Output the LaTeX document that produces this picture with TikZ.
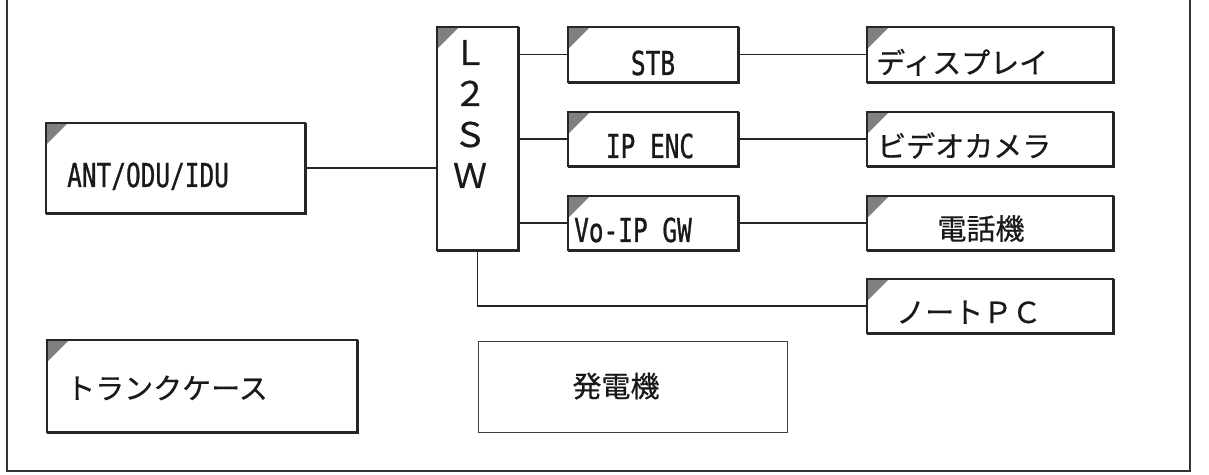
\documentclass[tikz,border=0pt]{standalone}
\usepackage{fontspec}
\newfontfamily\jp[FakeBold=0.6]{Noto Sans CJK JP}
\newfontfamily\lat[FakeStretch=0.74,FakeBold=0.8]{DejaVu Sans Mono}
\usetikzlibrary{calc}
\begin{document}
\begin{tikzpicture}[x=1pt,y=1pt,
  box/.style={draw=black!85, line width=1.8pt, inner sep=0pt, outer sep=0pt,
    path picture={\fill[black!50] (path picture bounding box.north west) -- ++(22,0) -- ++(-22,-22) -- cycle;}},
  plainbox/.style={draw=black!75, line width=1pt, inner sep=0pt, outer sep=0pt},
  ln/.style={draw=black!85, line width=1.4pt},
  frm/.style={draw=black!80, line width=2pt},
  lt/.style={inner sep=0pt, font=\fontsize{33}{33}\selectfont\lat, text=black!90},
  jt/.style={inner sep=0pt, font=\fontsize{29}{29}\selectfont\jp, text=black!90},
  wt/.style={inner sep=0pt, align=center, font=\fontsize{34}{41}\selectfont\jp, text=black!90}]
\useasboundingbox (0,0) rectangle (1209,474);
\draw[frm] (7,474) -- (7,3) -- (1190,3) -- (1190,474);

% boxes
\node[box, minimum width=259, minimum height=90] (ant) at (175.5,306) {};
\node[box, minimum width=81, minimum height=223] (l2sw) at (477.5,335.5) {};
\node[box, minimum width=170, minimum height=55] (stb) at (653,419.5) {};
\node[box, minimum width=170, minimum height=54] (ipenc) at (653,335) {};
\node[box, minimum width=170, minimum height=54] (vogw) at (653,251) {};
\node[box, minimum width=246, minimum height=55] (disp) at (990,419.5) {};
\node[box, minimum width=246, minimum height=54] (cam) at (990,335) {};
\node[box, minimum width=246, minimum height=54] (tel) at (990,251) {};
\node[box, minimum width=246, minimum height=54] (pc) at (990,168) {};
\node[box, minimum width=310, minimum height=92] (trunk) at (202,88) {};
\node[plainbox, minimum width=309, minimum height=91] (gen) at (632.5,87.5) {};

% heavier bottom and right edges
\foreach \n in {ant,l2sw,stb,ipenc,vogw,disp,cam,tel,pc,trunk}
  \draw[draw=black!85, line width=2.8pt] ([yshift=-0.5pt]\n.south west) -- ([xshift=0.5pt,yshift=-0.5pt]\n.south east) -- ([xshift=0.5pt]\n.north east);

% connectors
\draw[ln] (ant.east) -- (ant.east -| l2sw.west);
\draw[ln] (stb.west -| l2sw.east) -- (stb.west);
\draw[ln] (ipenc.west -| l2sw.east) -- (ipenc.west);
\draw[ln] (vogw.west -| l2sw.east) -- (vogw.west);
\draw[ln] (stb.east) -- (disp.west);
\draw[ln] (ipenc.east) -- (cam.west);
\draw[ln] (vogw.east) -- (tel.west);
\draw[ln] (l2sw.south) |- (pc.west);

% texts
\node[lt, anchor=base west] at (67,287) {ANT/ODU/IDU};
\node[lt, anchor=base] at (653,399) {STB};
\node[lt, anchor=base] at (650,316) {IP ENC};
\node[lt, anchor=base west] at (574,232) {Vo-IP GW};
\node[wt] at (470,360) {Ｌ\\２\\Ｓ\\Ｗ};
\node[jt, anchor=base west] at (876,400.5) {ディスプレイ};
\node[jt, anchor=base west] at (877,317) {ビデオカメラ};
\node[jt, anchor=base] at (981,234.5) {電話機};
\node[jt, anchor=base west] at (896,151) {ノートＰＣ};
\node[jt, anchor=base west] at (66,75) {トランクケース};
\node[jt, anchor=base] at (616,77) {発電機};
\end{tikzpicture}
\end{document}
